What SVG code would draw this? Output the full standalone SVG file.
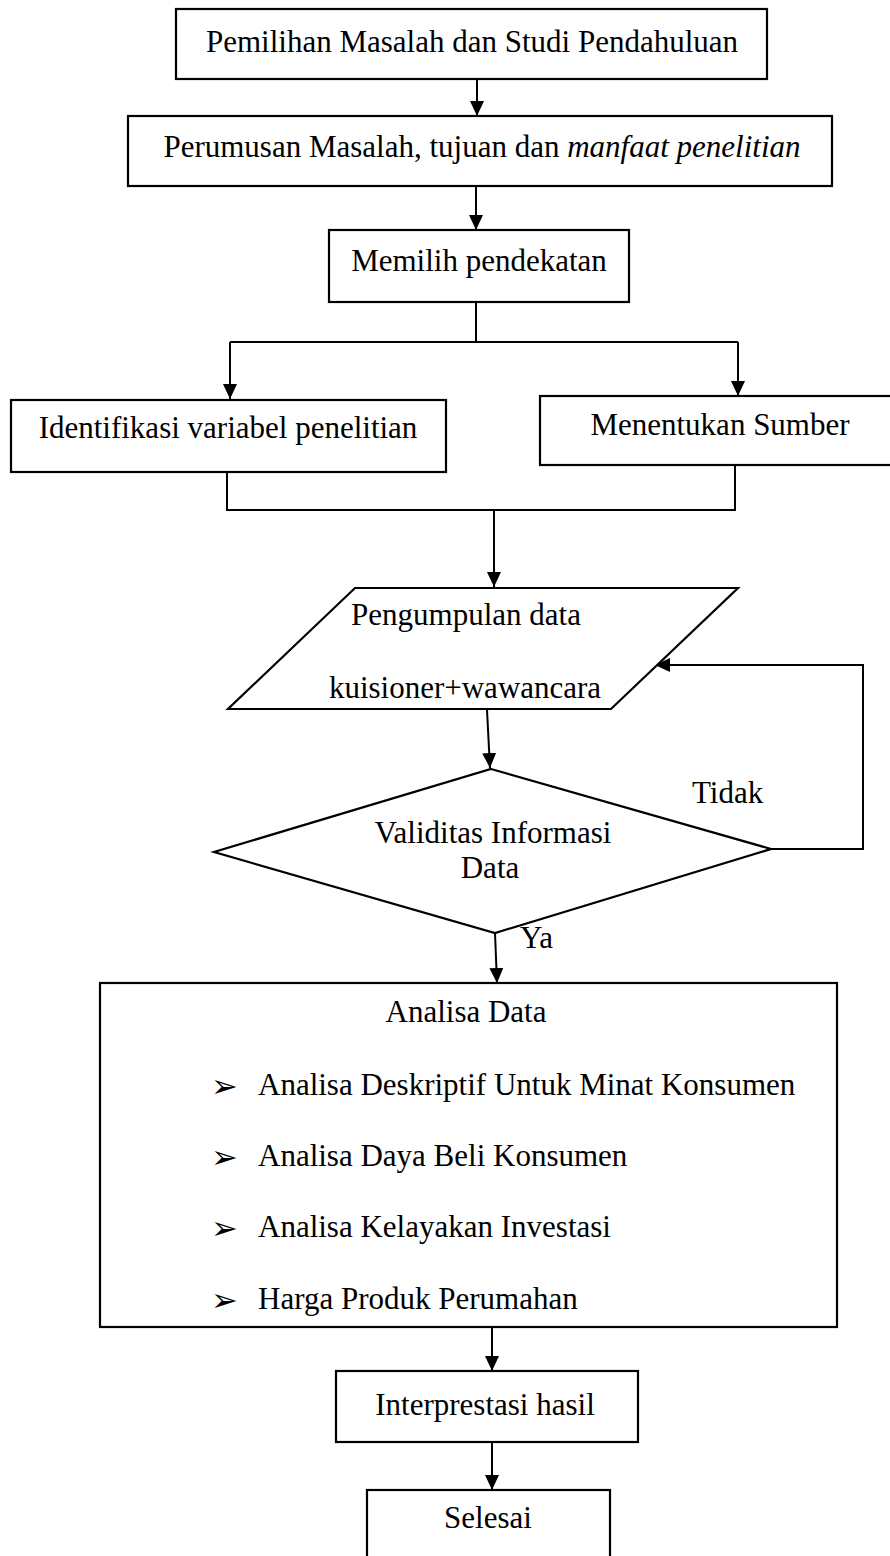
<svg xmlns="http://www.w3.org/2000/svg" width="890" height="1556" viewBox="0 0 890 1556">
<style>
.box{fill:#fff;stroke:#000;stroke-width:2.2}
.ln{fill:none;stroke:#000;stroke-width:2}
.t{font-family:"Liberation Serif","Times New Roman",serif;font-size:31px;fill:#000}
.c{text-anchor:middle}
.b{font-family:"DejaVu Sans",sans-serif;font-size:32px;fill:#000}
</style>
<defs>
<marker id="ah" markerUnits="userSpaceOnUse" markerWidth="16" markerHeight="14" refX="15" refY="7" orient="auto">
<path d="M0,0 L15,7 L0,14 z" fill="#000"/>
</marker>
</defs>
<rect width="890" height="1556" fill="#fff"/>
<g id="connectors">
<line class="ln" x1="477" y1="79" x2="477" y2="116" marker-end="url(#ah)"/>
<line class="ln" x1="476" y1="186" x2="476" y2="230" marker-end="url(#ah)"/>
<polyline class="ln" points="476,302 476,342"/>
<polyline class="ln" points="230,342 738,342"/>
<line class="ln" x1="230" y1="342" x2="230" y2="399" marker-end="url(#ah)"/>
<line class="ln" x1="738" y1="342" x2="738" y2="396" marker-end="url(#ah)"/>
<polyline class="ln" points="227,472 227,510 735,510 735,465"/>
<line class="ln" x1="494" y1="510" x2="494" y2="587" marker-end="url(#ah)"/>
<line class="ln" x1="487" y1="710" x2="490" y2="768" marker-end="url(#ah)"/>
<polyline class="ln" points="771,849 863,849 863,665 655,665" marker-end="url(#ah)"/>
<line class="ln" x1="495" y1="933" x2="497" y2="983" marker-end="url(#ah)"/>
<line class="ln" x1="492" y1="1327" x2="492" y2="1371" marker-end="url(#ah)"/>
<line class="ln" x1="492" y1="1442" x2="492" y2="1490" marker-end="url(#ah)"/>
</g>
<g id="n1">
<rect class="box" x="176" y="9" width="591" height="70"/>
<text class="t c" x="472" y="52">Pemilihan Masalah dan Studi Pendahuluan</text>
</g>
<g id="n2">
<rect class="box" x="128" y="116" width="704" height="70"/>
<text class="t c" x="482" y="157">Perumusan Masalah, tujuan dan <tspan font-style="italic">manfaat penelitian</tspan></text>
</g>
<g id="n3">
<rect class="box" x="329" y="230" width="300" height="72"/>
<text class="t c" x="479" y="271">Memilih pendekatan</text>
</g>
<g id="n4">
<rect class="box" x="11" y="400" width="435" height="72"/>
<text class="t c" x="228" y="438">Identifikasi variabel penelitian</text>
</g>
<g id="n5">
<rect class="box" x="540" y="396" width="360" height="69"/>
<text class="t c" x="720" y="435">Menentukan Sumber</text>
</g>
<g id="n6">
<polygon class="box" points="355,588 738,588 611,709 228,709"/>
<text class="t c" x="466" y="625">Pengumpulan data</text>
<text class="t c" x="465" y="698">kuisioner+wawancara</text>
</g>
<g id="n7">
<polygon class="box" points="491,769 771,849 495,933 214,852"/>
<text class="t c" x="493" y="843">Validitas Informasi</text>
<text class="t c" x="490" y="878">Data</text>
</g>
<text class="t" x="692" y="803">Tidak</text>
<text class="t" x="520" y="948">Ya</text>
<g id="n8">
<rect class="box" x="100" y="983" width="737" height="344"/>
<text class="t c" x="466" y="1022">Analisa Data</text>
<text class="b" x="211" y="1097">➢</text>
<text class="t" x="258" y="1095">Analisa Deskriptif Untuk Minat Konsumen</text>
<text class="b" x="211" y="1168">➢</text>
<text class="t" x="258" y="1166">Analisa Daya Beli Konsumen</text>
<text class="b" x="211" y="1239">➢</text>
<text class="t" x="258" y="1237">Analisa Kelayakan Investasi</text>
<text class="b" x="211" y="1311">➢</text>
<text class="t" x="258" y="1309">Harga Produk Perumahan</text>
</g>
<g id="n9">
<rect class="box" x="336" y="1371" width="302" height="71"/>
<text class="t c" x="485" y="1415">Interprestasi hasil</text>
</g>
<g id="n10">
<rect class="box" x="367" y="1490" width="243" height="80"/>
<text class="t c" x="488" y="1528">Selesai</text>
</g>
</svg>
